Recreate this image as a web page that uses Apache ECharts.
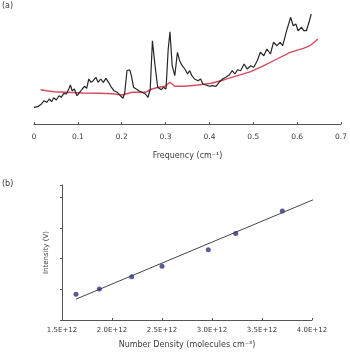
<!DOCTYPE html>
<html><head><meta charset="utf-8">
<script src="https://cdn.jsdelivr.net/npm/echarts@6/dist/echarts.min.js"></script>
<style>html,body{margin:0;padding:0;background:#fff}#c{width:350px;height:352px}</style>
</head><body><div id="c"></div>
<script>
// Panel (a): spectrum vs frequency (cm^-1), arbitrary intensity units
const freqBlack = [0.000,0.010,0.017,0.023,0.029,0.035,0.040,0.045,0.051,0.057,0.062,0.068,0.074,0.080,0.083,0.087,0.092,0.098,0.104,0.110,0.115,0.120,0.125,0.130,0.135,0.141,0.146,0.152,0.158,0.164,0.170,0.175,0.182,0.190,0.197,0.203,0.207,0.212,0.218,0.222,0.227,0.233,0.239,0.246,0.254,0.260,0.265,0.270,0.276,0.282,0.290,0.295,0.301,0.306,0.310,0.315,0.321,0.327,0.332,0.338,0.344,0.350,0.355,0.360,0.366,0.374,0.380,0.385,0.392,0.400,0.407,0.415,0.422,0.430,0.437,0.445,0.452,0.458,0.464,0.471,0.479,0.486,0.494,0.501,0.509,0.516,0.524,0.531,0.539,0.546,0.554,0.561,0.567,0.576,0.585,0.591,0.597,0.602,0.610,0.615,0.621,0.627,0.632];
const intBlack = [1.67,1.77,2.00,2.33,2.17,2.50,2.23,2.63,2.40,2.83,2.67,3.07,3.00,3.57,3.90,3.33,3.50,2.83,3.17,3.50,3.77,3.57,4.50,4.17,4.33,4.67,4.17,4.50,4.17,4.57,4.17,3.77,3.33,3.17,2.83,2.57,3.17,5.33,5.43,4.83,3.67,3.50,3.33,3.17,3.00,2.67,3.50,8.33,5.83,3.67,3.43,3.67,3.50,7.50,9.23,5.83,4.83,7.17,6.33,5.83,5.50,5.00,5.33,4.83,4.50,4.33,4.50,4.00,3.90,3.77,3.83,3.77,4.17,4.50,4.67,4.90,5.33,5.00,5.43,5.33,6.00,5.50,5.83,5.67,6.33,7.17,6.83,7.50,7.00,8.17,7.83,8.17,7.83,9.33,10.67,9.83,10.00,9.33,9.67,9.33,9.33,10.17,11.00];
const freqRed = [0.015,0.029,0.044,0.074,0.111,0.149,0.179,0.201,0.224,0.254,0.269,0.284,0.299,0.310,0.321,0.344,0.374,0.404,0.434,0.464,0.494,0.524,0.554,0.584,0.614,0.629,0.640,0.647];
const intRed = [3.43,3.33,3.23,3.17,3.10,3.07,3.03,2.90,3.17,3.17,3.50,3.67,3.77,4.17,3.77,3.77,3.90,4.07,4.43,4.83,5.23,5.83,6.50,7.17,7.57,7.83,8.23,8.50];
const freqTicks = [0,0.1,0.2,0.3,0.4,0.5,0.6,0.7];

// Panel (b): intensity vs number density
const density = [1.64e12,1.873e12,2.197e12,2.50e12,2.963e12,3.237e12,3.703e12];
const intensity = [0.84,1.01,1.41,1.75,2.29,2.82,3.55];
const fitX = [1.64e12,4.1e12];
const fitY = [0.68,4.04];
const densityTicks = ['1.5E+12','2.0E+12','2.5E+12','3.0E+12','3.5E+12','4.0E+12'];

const FONT = 'DejaVu Sans';
const TXT = '#3a3a3a';
const zip = (a,b) => a.map((v,i)=>[v,b[i]]);
const chart = echarts.init(document.getElementById('c'), null, {renderer:'canvas'});
chart.setOption({
  animation:false,
  textStyle:{fontFamily:FONT},
  grid:[
    {left:34,right:5,top:4,bottom:228},
    {left:62,right:38,top:185,bottom:32}
  ],
  xAxis:[
    {gridIndex:0,type:'value',min:0,max:0.7,interval:0.1,
     name:'Frequency (cm\u207B\u00B9)',nameLocation:'middle',nameGap:28,
     nameTextStyle:{fontSize:8,color:TXT,fontFamily:FONT},
     axisLine:{lineStyle:{color:'#555',width:1}},
     axisTick:{inside:true,length:2,lineStyle:{color:'#555'}},
     splitLine:{show:false},
     axisLabel:{fontSize:7.5,color:TXT,margin:9,fontFamily:FONT,
       formatter:v=>{const i=freqTicks.findIndex(t=>Math.abs(t-v)<1e-9);return i>=0?String(freqTicks[i]):'';}}},
    {gridIndex:1,type:'value',min:1.5e12,max:4.0e12,interval:0.5e12,
     name:'Number Density (molecules cm\u207B\u00B3)',nameLocation:'middle',nameGap:21,
     nameTextStyle:{fontSize:8,color:TXT,fontFamily:FONT},
     axisLine:{lineStyle:{color:'#555',width:1}},
     axisTick:{inside:true,length:2,lineStyle:{color:'#555'}},
     splitLine:{show:false},
     axisLabel:{fontSize:7,color:TXT,margin:7,fontFamily:FONT,
       formatter:v=>densityTicks[Math.round((v-1.5e12)/0.5e12)]||''}}
  ],
  yAxis:[
    {gridIndex:0,type:'value',min:0,max:12,show:false},
    {gridIndex:1,type:'value',min:0,max:4.4,interval:1,
     name:'Intensity (V)',nameLocation:'middle',nameGap:12,nameRotate:90,
     nameTextStyle:{fontSize:7,color:TXT,fontFamily:FONT},
     axisLine:{show:true,lineStyle:{color:'#555',width:1}},
     axisTick:{show:true,length:2,lineStyle:{color:'#555'}},
     axisLabel:{show:false},
     splitLine:{show:false}}
  ],
  series:[
    {type:'line',xAxisIndex:0,yAxisIndex:0,data:zip(freqRed,intRed),showSymbol:false,
     lineStyle:{color:'#d84a5e',width:1.4},z:2},
    {type:'line',xAxisIndex:0,yAxisIndex:0,data:zip(freqBlack,intBlack),showSymbol:false,
     lineStyle:{color:'#262626',width:1.2},z:3},
    {type:'line',xAxisIndex:1,yAxisIndex:1,data:zip(fitX,fitY),showSymbol:false,clip:false,
     lineStyle:{color:'#444',width:1}},
    {type:'scatter',xAxisIndex:1,yAxisIndex:1,data:zip(density,intensity),symbol:'circle',symbolSize:5,
     itemStyle:{color:'#32327f'},z:5}
  ],
  graphic:[
    {type:'text',left:2,top:2,style:{text:'(a)',fontSize:8,fill:TXT,fontFamily:FONT}},
    {type:'text',left:2,top:180,style:{text:'(b)',fontSize:8,fill:TXT,fontFamily:FONT}}
  ]
});
</script></body></html>
